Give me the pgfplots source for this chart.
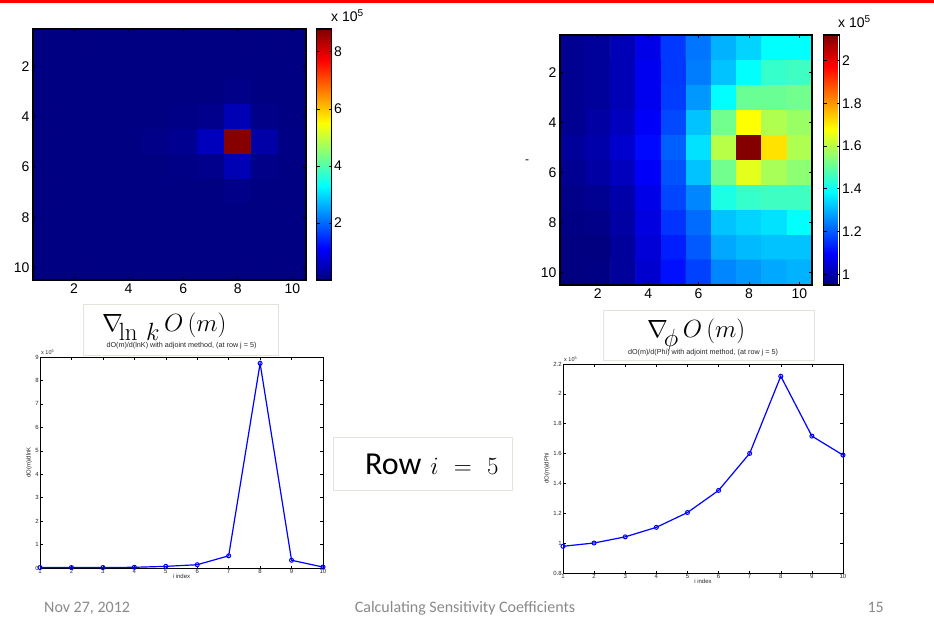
\documentclass[border=0pt]{standalone}
\usepackage[no-math]{fontspec}
\setmainfont{Liberation Sans}
\newfontfamily\calibri{Carlito}
\usepackage{pgfplots}
\pgfplotsset{compat=1.18}
\definecolor{boxgray}{RGB}{228,228,218}
\definecolor{footgray}{RGB}{137,137,137}
\definecolor{mblue}{RGB}{0,0,255}
\definecolor{jetlow}{RGB}{0,0,129}
\pgfplotsset{
  heat/.style={scale only axis, y dir=reverse, xmin=0.5,xmax=10.5,ymin=0.5,ymax=10.5,
    enlargelimits=false, axis on top,
    xtick={2,4,6,8,10}, ytick={2,4,6,8,10}, tick align=inside, major tick length=3pt,
    axis line style={line width=1.1pt}, tick style={black, line width=0.7pt},
    ticklabel style={font=\fontsize{14}{16}\selectfont},
    /pgf/number format/assume math mode=true,
    colormap/jet, colorbar right, colorbar shift/.style={xshift=10pt}},
  cbar/.style={width=15pt, y dir=normal, tick align=inside, major tick length=3pt,
    ytick pos=both, yticklabel pos=right, xtick=\empty,
    axis line style={line width=1.1pt}, tick style={black, line width=0.7pt},
    yticklabel style={font=\fontsize{14}{16}\selectfont, xshift=-1pt},
    /pgf/number format/assume math mode=true},
  cell/.style={matrix plot*, mesh/cols=10, point meta=explicit, shader=faceted, faceted color=mapped color, line width=0.6pt},
  lplot/.style={scale only axis, xmin=1, xmax=10, xtick={1,2,3,4,5,6,7,8,9,10},
    tick align=inside, major tick length=2.5pt,
    axis line style={line width=0.8pt}, tick style={black, line width=0.5pt},
    ticklabel style={font=\fontsize{6}{7}\selectfont, inner sep=1pt, text=black!85},
    label style={font=\fontsize{6}{7}\selectfont, text=black!85},
    title style={font=\fontsize{7.2}{8}\selectfont, inner sep=1pt, yshift=0.5pt, text=black!85},
    /pgf/number format/assume math mode=true, xlabel={i index},
    xlabel style={yshift=4pt}, ylabel style={yshift=-1pt}},
  lline/.style={mblue, line width=1.2pt, mark=o, mark size=2pt, mark options={line width=1pt}},
}
\begin{document}
\begin{tikzpicture}[x=1pt,y=1pt]
\path[use as bounding box] (0,0) rectangle (934,632);
\fill[red] (0,629) rectangle (934,632);

% heatmap 1
\begin{axis}[heat, width=273pt, height=251pt, at={(33pt,352pt)}, anchor=south west,
  axis background/.style={fill=jetlow},
  point meta min=0, point meta max=8.8,
  colorbar style={cbar, ytick={2,4,6,8}}]
\addplot[cell] coordinates {
(1,1)[0.02] (2,1)[0.02] (3,1)[0.02] (4,1)[0.02] (5,1)[0.02] (6,1)[0.02] (7,1)[0.02] (8,1)[0.02] (9,1)[0.02] (10,1)[0.02]

(1,2)[0.02] (2,2)[0.02] (3,2)[0.02] (4,2)[0.02] (5,2)[0.02] (6,2)[0.02] (7,2)[0.02] (8,2)[0.03] (9,2)[0.02] (10,2)[0.02]

(1,3)[0.02] (2,3)[0.02] (3,3)[0.02] (4,3)[0.02] (5,3)[0.02] (6,3)[0.02] (7,3)[0.03] (8,3)[0.08] (9,3)[0.03] (10,3)[0.02]

(1,4)[0.02] (2,4)[0.02] (3,4)[0.02] (4,4)[0.02] (5,4)[0.03] (6,4)[0.05] (7,4)[0.10] (8,4)[0.45] (9,4)[0.08] (10,4)[0.03]

(1,5)[0.02] (2,5)[0.02] (3,5)[0.02] (4,5)[0.03] (5,5)[0.07] (6,5)[0.14] (7,5)[0.52] (8,5)[8.75] (9,5)[0.33] (10,5)[0.04]

(1,6)[0.02] (2,6)[0.02] (3,6)[0.02] (4,6)[0.02] (5,6)[0.03] (6,6)[0.05] (7,6)[0.10] (8,6)[0.45] (9,6)[0.08] (10,6)[0.03]

(1,7)[0.02] (2,7)[0.02] (3,7)[0.02] (4,7)[0.02] (5,7)[0.02] (6,7)[0.02] (7,7)[0.03] (8,7)[0.08] (9,7)[0.03] (10,7)[0.02]

(1,8)[0.02] (2,8)[0.02] (3,8)[0.02] (4,8)[0.02] (5,8)[0.02] (6,8)[0.02] (7,8)[0.02] (8,8)[0.03] (9,8)[0.02] (10,8)[0.02]

(1,9)[0.02] (2,9)[0.02] (3,9)[0.02] (4,9)[0.02] (5,9)[0.02] (6,9)[0.02] (7,9)[0.02] (8,9)[0.02] (9,9)[0.02] (10,9)[0.02]

(1,10)[0.02] (2,10)[0.02] (3,10)[0.02] (4,10)[0.02] (5,10)[0.02] (6,10)[0.02] (7,10)[0.02] (8,10)[0.02] (9,10)[0.02] (10,10)[0.02]
};
\end{axis}
\node[font=\fontsize{14}{16}\selectfont, anchor=base west, inner sep=0pt] at (331,610) {x 10\textsuperscript{\fontsize{10}{10}\selectfont 5}};

% heatmap 2
\begin{axis}[heat, width=252pt, height=250pt, at={(560pt,347pt)}, anchor=south west,
  point meta min=0.95, point meta max=2.12,
  colorbar shift/.style={xshift=11pt},
  colorbar style={cbar, width=16pt, ytick={1,1.2,1.4,1.6,1.8,2}}]
\addplot[cell] coordinates {
(1,1)[0.97] (2,1)[0.98] (3,1)[1.01] (4,1)[1.07] (5,1)[1.16] (6,1)[1.23] (7,1)[1.30] (8,1)[1.34] (9,1)[1.39] (10,1)[1.39]

(1,2)[0.97] (2,2)[0.98] (3,2)[1.01] (4,2)[1.08] (5,2)[1.16] (6,2)[1.24] (7,2)[1.32] (8,2)[1.39] (9,2)[1.45] (10,2)[1.46]

(1,3)[0.97] (2,3)[0.98] (3,3)[1.01] (4,3)[1.08] (5,3)[1.165] (6,3)[1.27] (7,3)[1.39] (8,3)[1.51] (9,3)[1.51] (10,3)[1.52]

(1,4)[0.97] (2,4)[0.99] (3,4)[1.02] (4,4)[1.09] (5,4)[1.18] (6,4)[1.32] (7,4)[1.52] (8,4)[1.68] (9,4)[1.59] (10,4)[1.565]

(1,5)[0.98] (2,5)[1.00] (3,5)[1.04] (4,5)[1.105] (5,5)[1.205] (6,5)[1.355] (7,5)[1.60] (8,5)[2.115] (9,5)[1.715] (10,5)[1.59]

(1,6)[0.97] (2,6)[0.99] (3,6)[1.02] (4,6)[1.09] (5,6)[1.19] (6,6)[1.32] (7,6)[1.52] (8,6)[1.65] (9,6)[1.58] (10,6)[1.55]

(1,7)[0.96] (2,7)[0.97] (3,7)[1.00] (4,7)[1.07] (5,7)[1.175] (6,7)[1.25] (7,7)[1.42] (8,7)[1.45] (9,7)[1.46] (10,7)[1.46]

(1,8)[0.955] (2,8)[0.96] (3,8)[0.99] (4,8)[1.06] (5,8)[1.155] (6,8)[1.22] (7,8)[1.32] (8,8)[1.34] (9,8)[1.355] (10,8)[1.39]

(1,9)[0.95] (2,9)[0.95] (3,9)[0.98] (4,9)[1.05] (5,9)[1.13] (6,9)[1.20] (7,9)[1.29] (8,9)[1.31] (9,9)[1.32] (10,9)[1.32]

(1,10)[0.95] (2,10)[0.955] (3,10)[0.98] (4,10)[1.04] (5,10)[1.115] (6,10)[1.17] (7,10)[1.25] (8,10)[1.27] (9,10)[1.29] (10,10)[1.30]
};
\end{axis}
\node[font=\fontsize{14}{16}\selectfont, anchor=base west, inner sep=0pt] at (838,604) {x 10\textsuperscript{\fontsize{10}{10}\selectfont 5}};
\node[font=\fontsize{12}{12}\selectfont, inner sep=0pt] at (527,470) {-};

% text boxes
\node[draw=boxgray, fill=white, line width=0.6pt, minimum width=195pt, minimum height=51pt, anchor=north west, inner sep=0pt] at (83,328) {};
\node[anchor=base west, inner sep=0pt, font=\fontsize{34}{36}\selectfont] at (102,300) {$\nabla_{\!\ln\,k}\, O\,(m)$};
\node[draw=boxgray, fill=white, line width=0.6pt, minimum width=211pt, minimum height=50pt, anchor=north west, inner sep=0pt] at (603,322) {};
\node[anchor=base west, inner sep=0pt, font=\fontsize{34}{36}\selectfont] at (647,294) {$\nabla_{\!\phi}\, O\,(m)$};
\node[draw=boxgray, fill=white, line width=0.6pt, minimum width=179pt, minimum height=53pt, anchor=north west, inner sep=0pt] at (333,195) {};
\node[anchor=base west, inner sep=0pt, font=\fontsize{32}{36}\selectfont] at (365,157) {{\calibri Row} {\fontsize{38}{40}\selectfont$i\mkern6mu=\mkern6mu5$}};

% line plot 1
\begin{axis}[lplot, width=283pt, height=211pt, at={(40pt,64pt)}, anchor=south west,
  ymin=0, ymax=9, ytick={0,1,2,3,4,5,6,7,8,9},
  title={dO(m)/d(lnK) with adjoint method, (at row j = 5)}, ylabel={dO(m)/dlnK}]
\addplot[lline] coordinates {
(1,0.02) (2,0.02) (3,0.02) (4,0.03) (5,0.07) (6,0.14) (7,0.52) (8,8.73) (9,0.33) (10,0.04)};
\end{axis}
\node[font=\fontsize{5.5}{6}\selectfont, text=black!85, anchor=base west, inner sep=0pt] at (41,277) {x 10\textsuperscript{5}};

% line plot 2
\begin{axis}[lplot, width=280pt, height=209pt, at={(563pt,59pt)}, anchor=south west,
  ymin=0.8, ymax=2.2, ytick={0.8,1,1.2,1.4,1.6,1.8,2,2.2},
  title={dO(m)/d(Phi) with adjoint method, (at row j = 5)}, ylabel={dO(m)/dPhi}]
\addplot[lline] coordinates {
(1,0.979) (2,1.001) (3,1.042) (4,1.106) (5,1.205) (6,1.353) (7,1.601) (8,2.118) (9,1.717) (10,1.590)};
\end{axis}
\node[font=\fontsize{5.5}{6}\selectfont, text=black!85, anchor=base west, inner sep=0pt] at (564,270) {x 10\textsuperscript{5}};

% footer
\node[font=\calibri\fontsize{16}{18}\selectfont, text=footgray, anchor=base west, inner sep=0pt] at (44,20) {Nov 27, 2012};
\node[font=\calibri\fontsize{16}{18}\selectfont, text=footgray, anchor=base, inner sep=0pt] at (465,20) {Calculating Sensitivity Coefficients};
\node[font=\calibri\fontsize{16}{18}\selectfont, text=footgray, anchor=base east, inner sep=0pt] at (884,20) {15};
\end{tikzpicture}
\end{document}
